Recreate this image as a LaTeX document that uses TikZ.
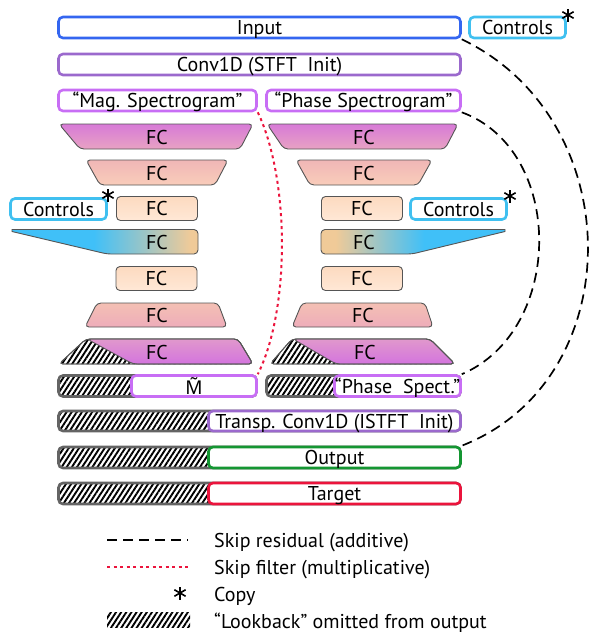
\documentclass[tikz,border=0pt]{standalone}
\usepackage{fontspec}
\setmainfont{PT Sans}
\newfontfamily\notofam{Noto Sans}
\usetikzlibrary{patterns.meta}
\definecolor{cInput}{RGB}{52,102,240}
\definecolor{cCtrl}{RGB}{64,192,240}
\definecolor{cConv}{RGB}{155,105,205}
\definecolor{cSpec}{RGB}{200,110,245}
\definecolor{cGray}{RGB}{100,100,100}
\definecolor{cLine}{RGB}{85,85,85}
\definecolor{cGreen}{RGB}{20,150,50}
\definecolor{cRed}{RGB}{235,20,60}
\definecolor{cMagA}{RGB}{215,122,215}
\definecolor{cMagB}{RGB}{232,162,195}
\definecolor{cSalA}{RGB}{240,182,182}
\definecolor{cSalB}{RGB}{249,205,186}
\definecolor{cPeaA}{RGB}{252,218,192}
\definecolor{cPeaB}{RGB}{255,232,214}
\definecolor{cPinA}{RGB}{244,192,180}
\definecolor{cPinB}{RGB}{238,172,186}
\definecolor{cMgcA}{RGB}{224,152,204}
\definecolor{cMgcB}{RGB}{212,116,222}
\definecolor{cCtrlB}{RGB}{64,192,248}
\definecolor{cTan}{RGB}{240,202,152}
\pgfdeclarehorizontalshading{ctrlshadeL}{100bp}{color(0bp)=(cCtrlB); color(25bp)=(cCtrlB); color(47bp)=(cCtrlB); color(73bp)=(cTan); color(100bp)=(cTan)}
\pgfdeclarehorizontalshading{ctrlshadeR}{100bp}{color(0bp)=(cTan); color(25bp)=(cTan); color(29bp)=(cTan); color(53bp)=(cCtrlB); color(100bp)=(cCtrlB)}
\newcommand\mainfs{\fontsize{20}{24}\selectfont}
\newcommand\mtildefs{\notofam\fontsize{19}{22}\selectfont}
\begin{document}
\begin{tikzpicture}[x=1pt,y=-1pt,
  capc/.style={text height=14pt, text depth=0pt},
  box/.style={draw, rounded corners=4.5pt, line width=2.6pt, fill=white, inner sep=0pt, minimum height=21pt, font=\mainfs, capc},
  hatchpat/.style={pattern={Lines[angle=57,distance=4.3pt,line width=1.9pt]}, pattern color=black},
  hatchbar/.style={draw=cGray, rounded corners=4.5pt, line width=2.6pt, hatchpat, inner sep=0pt, minimum height=21pt},
  fcline/.style={draw=cLine, line width=0.9pt, rounded corners=4pt},
  fcrect/.style={fcline, minimum width=81pt, minimum height=24pt, inner sep=0pt, font=\mainfs, capc, top color=cPeaA, bottom color=cPeaB},
  fctext/.style={font=\mainfs, inner sep=0pt, capc},
  residual/.style={dash pattern=on 10pt off 6pt, line width=1.7pt},
  filterline/.style={draw=cRed, dash pattern=on 3pt off 3.5pt, line width=2pt},
  astline/.style={line width=1.6pt},
  legtext/.style={font=\mainfs, anchor=west, inner sep=0pt, capc}]
\useasboundingbox (0,0) rectangle (596,633);

% top boxes
\node[box, draw=cInput, minimum width=402pt] (input) at (259.5,27.5) {Input};
\node[box, draw=cCtrl, minimum width=96pt] (ctrltop) at (517.5,27.5) {Controls};
\node[box, draw=cConv, minimum width=402pt] (conv) at (259.5,64.5) {Conv1D (STFT\ \ Init)};
\node[box, draw=cSpec, minimum width=198pt] (mag) at (157.5,100.5) {“Mag. Spectrogram”};
\node[box, draw=cSpec, minimum width=194pt] (phase) at (363.5,100.5) {“Phase Spectrogram”};

% FC row 1
\shadedraw[fcline, top color=cMagA, bottom color=cMagB] (59,124) -- (253,124) -- (240,149) -- (80,149) -- cycle;
\shadedraw[fcline, top color=cMagA, bottom color=cMagB] (267,124) -- (458,124) -- (445,149) -- (284,149) -- cycle;
\node[fctext] (fc1l) at (157,137) {FC};
\node[fctext] (fc1r) at (364,137) {FC};

% FC row 2
\shadedraw[fcline, top color=cSalA, bottom color=cSalB] (86,160) -- (228,160) -- (215,185) -- (100,185) -- cycle;
\shadedraw[fcline, top color=cSalA, bottom color=cSalB] (296,160) -- (432,160) -- (418,185) -- (310,185) -- cycle;
\node[fctext] (fc2l) at (157,173) {FC};
\node[fctext] (fc2r) at (364,173) {FC};

% FC row 3 and controls
\node[fcrect] (fc3l) at (157,208.5) {FC};
\node[fcrect] (fc3r) at (362,208.5) {FC};
\node[box, draw=cCtrl, minimum width=96pt] (ctrll) at (58.5,209) {Controls};
\node[box, draw=cCtrl, minimum width=96pt] (ctrlr) at (458.5,209) {Controls};

% FC row 4 (with control injection)
\shadedraw[fcline, shading=ctrlshadeL, sharp corners] (12,229.5) [rounded corners=4pt] -- (198,229.5) -- (198,254) -- (107,254) [sharp corners] -- (12,231.5) -- cycle;
\shadedraw[fcline, shading=ctrlshadeR, sharp corners] (505,229.5) [rounded corners=4pt] -- (321,229.5) -- (321,254) -- (412,254) [sharp corners] -- (505,231.5) -- cycle;
\node[fctext] (fc4l) at (157,242) {FC};
\node[fctext] (fc4r) at (364,242) {FC};

% FC row 5
\node[fcrect] (fc5l) at (156.5,278.5) {FC};
\node[fcrect] (fc5r) at (362,278.5) {FC};

% FC row 6
\shadedraw[fcline, top color=cPinA, bottom color=cPinB] (97,303) -- (218,303) -- (227,327) -- (85,327) -- cycle;
\shadedraw[fcline, top color=cPinA, bottom color=cPinB] (302,303) -- (425,303) -- (433,327) -- (292,327) -- cycle;
\node[fctext] (fc6l) at (157,315) {FC};
\node[fctext] (fc6r) at (363,315) {FC};

% FC row 7 (with lookback)
\draw[fcline, hatchpat] (59,364) -- (86,339) -- (238,339) -- (253,364) -- cycle;
\shadedraw[fcline, top color=cMgcA, bottom color=cMgcB] (87,339) -- (238,339) -- (253,364) -- (133,364) -- cycle;
\draw[fcline] (59,364) -- (86,339) -- (238,339) -- (253,364) -- cycle;
\draw[fcline, hatchpat] (270,364) -- (292,339) -- (430,339) -- (455,364) -- cycle;
\shadedraw[fcline, top color=cMgcA, bottom color=cMgcB] (293,339) -- (430,339) -- (455,364) -- (336,364) -- cycle;
\draw[fcline] (270,364) -- (292,339) -- (430,339) -- (455,364) -- cycle;
\node[fctext] (fc7l) at (157,352) {FC};
\node[fctext] (fc7r) at (365,352) {FC};

% hatched rows
\node[hatchbar, minimum width=198pt] (mbar) at (157.5,386) {};
\node[box, draw=cSpec, minimum width=125pt, font=\mtildefs, text height={}, text depth=0pt] (mtilde) at (194,386) {M^^^^0303};
\node[hatchbar, minimum width=194pt] (pbar) at (363.5,386) {};
\node[box, draw=cSpec, minimum width=126pt] (pspect) at (397.5,386) {“Phase\ \ Spect.”};
\node[hatchbar, minimum width=402pt, minimum height=20pt] (tbar) at (259.5,421) {};
\node[box, draw=cConv, minimum width=252pt, minimum height=20pt] (transp) at (334.5,421) {Transp. Conv1D (ISTFT\ \ Init)};
\node[hatchbar, minimum width=402pt] (obar) at (259.5,457.5) {};
\node[box, draw=cGreen, minimum width=252pt] (output) at (334.5,457.5) {Output};
\node[hatchbar, minimum width=402pt] (gbar) at (259.5,493.5) {};
\node[box, draw=cRed, minimum width=252pt] (target) at (334.5,493.5) {Target};

% skip connections
\draw[residual] (input.south east) .. controls (630,120) and (630,380) .. (output.north east);
\draw[residual] (phase.south east) .. controls (565,150) and (565,330) .. (pspect.north east);
\draw[filterline] (mag.south east) .. controls (290,180) and (290,310) .. (mtilde.north east);

% copy asterisks
\foreach \cx/\cy in {568/15, 108/195, 510/196, 180/593}{
  \foreach \a in {90,30,150}{
    \draw[astline] (\cx,\cy) ++(\a:6.5) -- ++(\a+180:13);
  }
}

% legend
\coordinate (la) at (107,540);
\coordinate (lb) at (188,540);
\draw[residual] (la) -- (lb);
\node[legtext] (lt1) at (214,540) {Skip residual (additive)};
\coordinate (lc) at (107,567);
\coordinate (ld) at (190,567);
\draw[filterline] (lc) -- (ld);
\node[legtext] (lt2) at (214,567) {Skip filter (multiplicative)};
\node[legtext] (lt3) at (214,594) {Copy};
\path[hatchpat] (107,612) rectangle (190,627);
\node[legtext] (lt4) at (214,621) {“Lookback” omitted from output};
\end{tikzpicture}
\end{document}
